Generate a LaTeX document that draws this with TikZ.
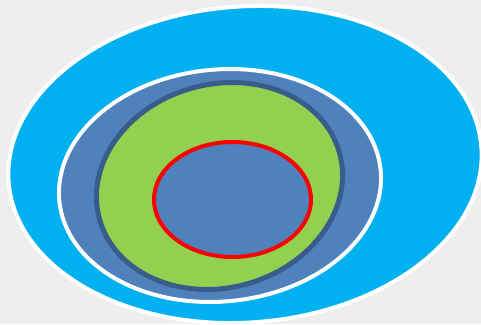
\documentclass[tikz,border=0pt]{standalone}
\definecolor{bgc}{HTML}{EEEEEE}
\definecolor{cyanf}{HTML}{00B0F0}
\definecolor{bluef}{HTML}{4F81BD}
\definecolor{greenf}{HTML}{92D050}
\definecolor{darkb}{HTML}{385D8A}
\definecolor{redb}{HTML}{FF0000}
\begin{document}
\begin{tikzpicture}[x=1pt,y=1pt,
  outerring/.style={fill=cyanf,draw=white,line width=4pt},
  midring/.style={fill=bluef,draw=white,line width=4pt},
  greenring/.style={fill=greenf,draw=darkb,line width=5pt},
  redring/.style={fill=bluef,draw=redb,line width=4pt}]
\fill[bgc] (0,0) rectangle (481,324);
\useasboundingbox (0,0) rectangle (481,324);
\draw[outerring, rotate around={4.15:(245,159.5)}] (245,159.5) ellipse [x radius=237pt, y radius=158pt];
\draw[midring, rotate around={5.4:(220,138.5)}] (220,138.5) ellipse [x radius=161.4pt, y radius=116pt];
\draw[greenring, rotate around={15.35:(219.5,138)}] (219.5,138) ellipse [x radius=124.5pt, y radius=101.7pt];
\draw[redring] (232.5,124.5) ellipse [x radius=78.5pt, y radius=57.5pt];
\end{tikzpicture}
\end{document}
